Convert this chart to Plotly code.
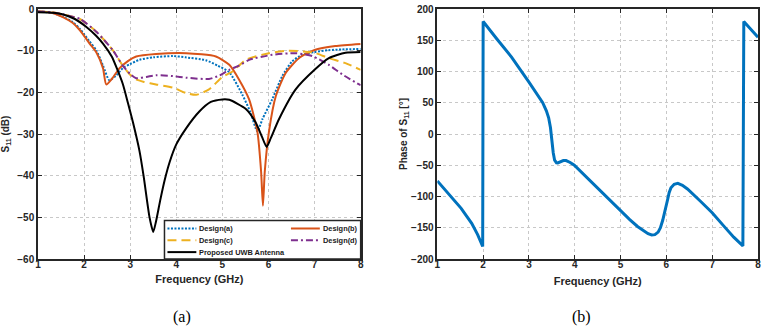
import plotly.graph_objects as go

# ---------------- data ----------------
f_a = [1.0, 1.3, 1.55, 1.75, 1.91, 2.12, 2.27, 2.41, 2.55, 2.7, 2.84, 3.0, 3.2, 3.5, 3.93, 4.2, 4.64, 4.9,
       5.15, 5.43, 5.61, 5.76, 5.87, 6.08, 6.3, 6.51, 6.73, 7.0, 7.3, 7.6, 8.0]
s_a = [-0.6, -0.9, -1.9, -3.1, -4.8, -7.8, -10.0, -13.6, -17.1, -15.9, -14.2, -13.2, -12.2, -11.6, -11.3, -11.6,
       -12.3, -13.6, -15.2, -20.5, -24.8, -29.4, -26.4, -21.7, -16.1, -12.6, -11.0, -10.3, -9.9, -9.7, -9.6]

f_b = [1.0, 1.3, 1.55, 1.75, 1.91, 2.12, 2.27, 2.41, 2.48, 2.6, 2.77, 2.95, 3.13, 3.56, 4.22, 4.86, 5.15, 5.36,
       5.58, 5.76, 5.84, 5.88, 5.92, 6.01, 6.16, 6.37, 6.66, 7.0, 7.45, 8.0]
s_b = [-0.6, -0.9, -2.0, -3.3, -5.1, -8.3, -10.5, -14.2, -18.1, -16.8, -14.2, -12.5, -11.4, -10.8, -10.6, -11.4,
       -13.4, -16.9, -21.7, -29.5, -39.0, -47.2, -39.0, -29.5, -20.9, -15.4, -11.8, -9.85, -8.9, -8.4]

f_c = [1.0, 1.3, 1.55, 1.91, 2.27, 2.63, 2.84, 3.0, 3.13, 3.3, 3.56, 3.93, 4.22, 4.43, 4.71, 5.0, 5.22, 5.51,
       6.01, 6.44, 7.0, 7.31, 7.67, 8.0]
s_c = [-0.6, -0.8, -1.3, -2.4, -5.5, -10.0, -13.6, -15.8, -16.9, -17.5, -18.1, -18.9, -20.2, -20.6, -19.3,
       -16.3, -15.0, -12.2, -10.6, -10.0, -10.5, -11.8, -13.0, -14.6]

f_d = [1.0, 1.3, 1.55, 1.91, 2.27, 2.63, 2.84, 3.0, 3.13, 3.35, 3.56, 3.93, 4.22, 4.71, 4.93, 5.15, 5.36, 5.58,
       6.08, 6.59, 6.95, 7.31, 7.6, 8.0]
s_d = [-0.6, -0.8, -1.3, -2.4, -5.5, -10.0, -13.6, -15.6, -16.6, -16.3, -15.9, -16.1, -16.5, -16.8, -16.0,
       -14.6, -13.6, -12.2, -11.0, -10.6, -11.3, -13.4, -15.7, -18.3]

f_p = [1.0, 1.3, 1.55, 1.8, 2.05, 2.25, 2.41, 2.6, 2.72, 2.84, 2.95, 3.06, 3.2, 3.29, 3.42, 3.5, 3.56, 3.65,
       3.75, 3.86, 4.0, 4.21, 4.5, 4.75, 5.0, 5.15, 5.51, 5.72, 5.86, 5.96, 6.05, 6.23, 6.59, 7.0, 7.31, 7.67,
       8.0]
s_p = [-0.8, -0.9, -1.3, -2.4, -4.3, -6.3, -8.3, -11.4, -14.5, -18.0, -22.5, -27.2, -34.0, -40.0, -50.0, -53.5,
       -51.0, -46.0, -41.0, -36.6, -32.5, -28.7, -24.6, -22.3, -21.7, -21.8, -24.0, -27.2, -30.7, -33.1, -31.0,
       -26.4, -19.3, -14.6, -11.8, -10.5, -10.3]

f_ph = [1.0, 1.25, 1.52, 1.75, 1.88, 1.99, 2.0, 2.3, 2.62, 3.0, 3.2, 3.3, 3.38, 3.43, 3.47, 3.5, 3.53, 3.56,
        3.6, 3.63, 3.68, 3.75, 3.81, 3.9, 3.99, 4.28, 4.65, 5.0, 5.2, 5.37, 5.5, 5.6, 5.68, 5.75, 5.82, 5.87,
        5.92, 5.96, 5.99, 6.03, 6.06, 6.1, 6.17, 6.25, 6.35, 6.46, 6.75, 7.0, 7.25, 7.47, 7.67, 7.69, 8.0]
ph = [-75, -97, -119, -143, -161, -180, 180, 152, 123, 83, 62, 50, 37, 26, 10, -13, -30, -42,
      -46, -46.3, -44.5, -42.5, -42.5, -45.5, -50, -71, -97, -122, -137, -148, -155, -159.5, -161.5, -161,
      -157, -150, -138, -127, -118, -104, -94, -86, -80.5, -79, -82, -88, -108, -126, -147, -165, -179, 180,
      155]

names = ["Design(a)", "Design(b)", "Design(c)", "Design(d)", "Proposed UWB Antenna"]
colors = ["#0072BD", "#D95319", "#EDB120", "#7E2F8E", "#000000"]
dashes = ["2px,1.5px", "solid", "9px,5px", "7px,3px,2px,3px", "solid"]

# ---------------- layout geometry ----------------
W, H = 764, 327
ML, MR, MT, MB = 38, 3, 5, 68
PW, PH = W - ML - MR, H - MT - MB


def px_x(px):
    return (px - ML) / PW


def px_y(py):
    return (H - MB - py) / PH


TXT = "#262626"
FONT = "Liberation Sans, Arial, sans-serif"

fig = go.Figure()
xs = [f_a, f_b, f_c, f_d, f_p]
ys = [s_a, s_b, s_c, s_d, s_p]
for x, y, n, c, d in zip(xs, ys, names, colors, dashes):
    fig.add_trace(go.Scatter(x=x, y=y, name=n, mode="lines", xaxis="x", yaxis="y",
                             line=dict(color=c, width=2, dash=d, shape="spline", smoothing=0.6),
                             showlegend=False))

fig.add_trace(go.Scatter(x=f_ph, y=ph, name="Phase", mode="lines", xaxis="x2", yaxis="y2",
                         line=dict(color="#0072BD", width=3), showlegend=False))

axis_common = dict(showline=True, mirror="allticks", linecolor=TXT, linewidth=1.5,
                   ticks="inside", ticklen=4, tickwidth=1.2, tickcolor=TXT,
                   showgrid=True, gridcolor="#c8c8c8", griddash="dot", gridwidth=1,
                   zeroline=False, ticklabeloverflow="allow",
                   tickfont=dict(family=FONT, size=10, color=TXT, weight="bold"))

fig.update_layout(
    width=W, height=H, margin=dict(l=ML, r=MR, t=MT, b=MB),
    paper_bgcolor="white", plot_bgcolor="white", showlegend=False,
    xaxis=dict(domain=[0, px_x(362)], range=[1, 8], dtick=1, anchor="y", ticklabelstandoff=-5,
               title=dict(text="Frequency (GHz)", standoff=7,
                          font=dict(family=FONT, size=11, color=TXT, weight="bold")),
               **axis_common),
    yaxis=dict(domain=[0, 1], range=[-60, 0], dtick=10, anchor="x",
               title=dict(text="S<sub>11</sub> (dB)", standoff=6,
                          font=dict(family=FONT, size=10, color=TXT, weight="bold")),
               **axis_common),
    xaxis2=dict(domain=[px_x(439), 1], range=[1, 8], dtick=1, anchor="y2", ticklabelstandoff=-5,
                title=dict(text="Frequency (GHz)", standoff=9,
                           font=dict(family=FONT, size=11, color=TXT, weight="bold")),
                **axis_common),
    yaxis2=dict(domain=[0, 1], range=[-200, 200], dtick=50, anchor="x2",
                title=dict(text="Phase of S<sub>11</sub> [°]", standoff=2,
                           font=dict(family=FONT, size=10, color=TXT, weight="bold")),
                **axis_common),
)

# ---------------- legend (two columns, boxed) ----------------
shapes = [dict(type="rect", xref="paper", yref="paper", x0=px_x(165), x1=px_x(362),
               y0=px_y(259), y1=px_y(220), line=dict(color=TXT, width=1.5),
               fillcolor="white", layer="above")]
annotations = []
slots = [(168, 228), (292, 228), (168, 240), (292, 240), (168, 252)]
for (lx, ly), n, c, d in zip(slots, names, colors, dashes):
    shapes.append(dict(type="line", xref="paper", yref="paper", x0=px_x(lx), x1=px_x(lx + 29),
                       y0=px_y(ly), y1=px_y(ly), line=dict(color=c, width=2, dash=d), layer="above"))
    annotations.append(dict(xref="paper", yref="paper", x=px_x(lx + 30), y=px_y(ly), text=n,
                            showarrow=False, xanchor="left", yanchor="middle",
                            font=dict(family=FONT, size=7.4, color="#1a1a1a", weight="bold")))

# captions
annotations.append(dict(xref="paper", yref="paper", x=px_x(183), y=px_y(318), text="(a)", showarrow=False,
                        xanchor="center", yanchor="middle",
                        font=dict(family="Liberation Serif, Times New Roman, serif", size=16, color="black")))
annotations.append(dict(xref="paper", yref="paper", x=px_x(584), y=px_y(318), text="(b)", showarrow=False,
                        xanchor="center", yanchor="middle",
                        font=dict(family="Liberation Serif, Times New Roman, serif", size=16, color="black")))

fig.update_layout(shapes=shapes, annotations=annotations)

fig.write_html("out.html")
